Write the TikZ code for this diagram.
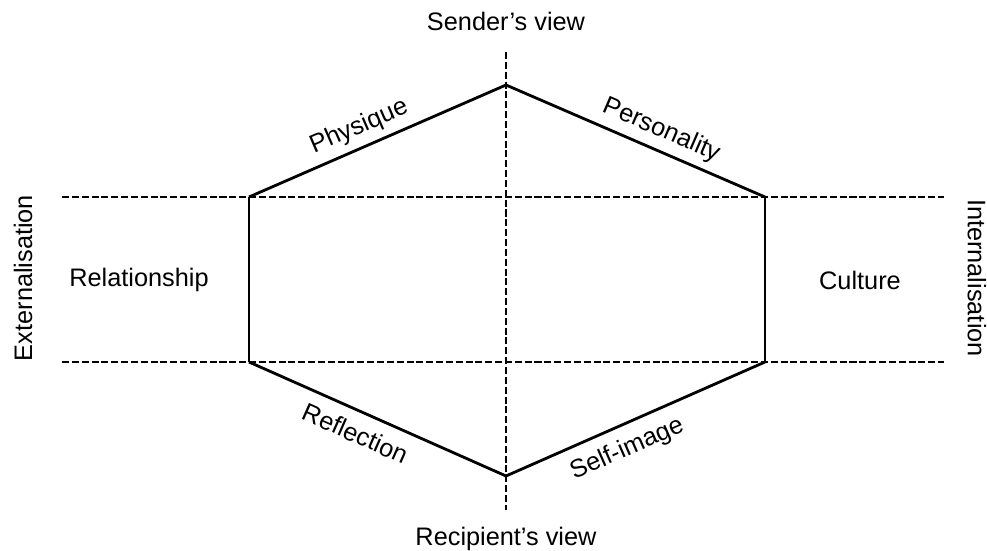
\documentclass[tikz,border=0pt]{standalone}
\usepackage{fontspec}
\setmainfont{Liberation Sans}
\begin{document}
\begin{tikzpicture}[
  x=0.025cm, y=-0.025cm,
  every node/.style={font=\fontsize{18}{21}\selectfont, inner sep=0pt},
  side/.style={line width=2pt},
  guide/.style={line width=1.8pt, dash pattern=on 5pt off 2pt}
]
\useasboundingbox (0,0) rectangle (987,551);
% hexagon corners
\coordinate (top) at (506,85);
\coordinate (ru) at (765,197);
\coordinate (rl) at (765,362);
\coordinate (bot) at (506,476);
\coordinate (ll) at (249,362);
\coordinate (lu) at (249,197);
% ends of the dashed axes
\coordinate (vtop) at (506,52);
\coordinate (vbot) at (506,510);
\coordinate (hul) at (62,197);
\coordinate (hur) at (944,197);
\coordinate (hll) at (62,362);
\coordinate (hlr) at (944,362);
\draw[guide] (vtop) -- (vbot);
\draw[guide] (hul) -- (hur);
\draw[guide] (hll) -- (hlr);
% sides
\draw[side] (lu) -- node[sloped, above=5pt, pos=0.46] {Physique} (top);
\draw[side] (top) -- node[sloped, above=5pt, pos=0.57] {Personality} (ru);
\draw[side] (ru) -- (rl);
\draw[side] (bot) -- node[sloped, below=8pt, pos=0.43] {Self-image} (rl);
\draw[side] (ll) -- node[sloped, below=8pt, pos=0.45] {Reflection} (bot);
\draw[side] (lu) -- (ll);
% labels
\node (sender) at (506,21) {Sender’s view};
\node (recipient) [anchor=base] at (506,545) {Recipient’s view};
\node (relation) at (139,280) {Relationship};
\node (culture) at (860,280) {Culture};
\node (extern) [rotate=90] at (23,278) {Externalisation};
\node (intern) [rotate=-90] at (977,278) {Internalisation};
\end{tikzpicture}
\end{document}
